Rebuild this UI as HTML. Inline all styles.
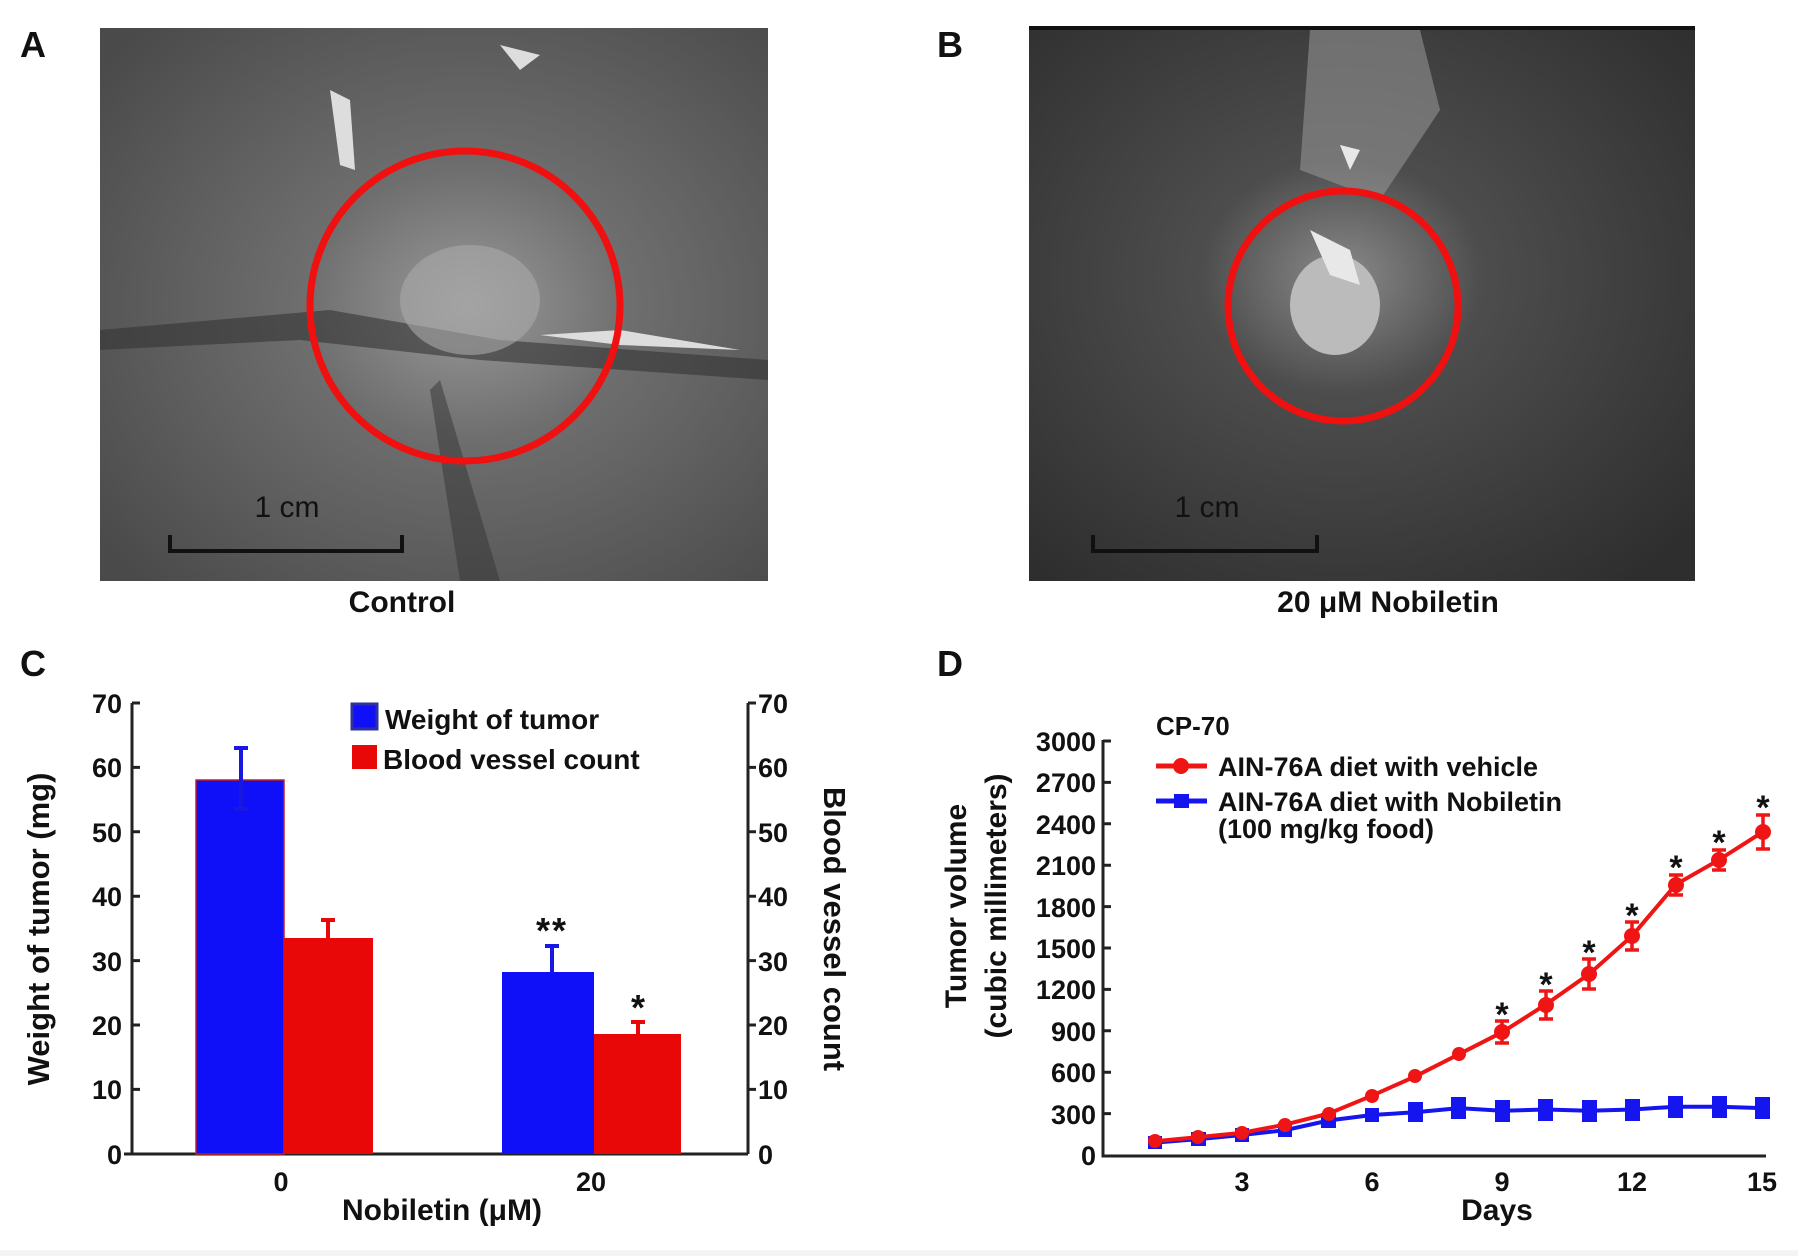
<!DOCTYPE html>
<html><head><meta charset="utf-8"><style>body{margin:0;background:#fff}svg{display:block}text{font-family:"Liberation Sans",Arial,sans-serif;font-weight:bold;fill:#111}</style></head><body>
<svg width="1798" height="1256" viewBox="0 0 1798 1256" xmlns="http://www.w3.org/2000/svg">
<defs>
<radialGradient id="ga" cx="0.55" cy="0.5" r="0.7"><stop offset="0" stop-color="#9a9a9a"/><stop offset="0.35" stop-color="#6e6e6e"/><stop offset="1" stop-color="#4a4a4a"/></radialGradient>
<radialGradient id="gb" cx="0.47" cy="0.45" r="0.7"><stop offset="0" stop-color="#8a8a8a"/><stop offset="0.3" stop-color="#4d4d4d"/><stop offset="1" stop-color="#2e2e2e"/></radialGradient>
</defs>
<rect x="0" y="1250" width="1798" height="6" fill="#f4f4f4"/>
<!-- Panel A -->
<text x="20" y="57" font-size="36">A</text>
<rect x="100" y="28" width="668" height="553" fill="url(#ga)"/>
<path d="M100 330 L330 310 L500 340 L768 360 L768 380 L480 360 L300 340 L100 350Z" fill="#333" opacity="0.6"/>
<path d="M440 380 L500 581 L460 581 L430 390Z" fill="#333" opacity="0.5"/>
<ellipse cx="470" cy="300" rx="70" ry="55" fill="#aaa" opacity="0.6"/>
<path d="M330 90 L350 100 L355 170 L340 165Z M500 45 L540 55 L520 70Z M540 335 L620 330 L740 350 L620 345Z" fill="#ddd"/>
<circle cx="465" cy="306" r="155" fill="none" stroke="#f01010" stroke-width="7"/>
<path d="M170 535 V551 H402 V535" fill="none" stroke="#111" stroke-width="4"/>
<text x="287" y="517" font-size="30" text-anchor="middle" style="font-weight:normal" fill="#222">1 cm</text>
<text x="402" y="612" font-size="30" text-anchor="middle">Control</text>
<!-- Panel B -->
<text x="937" y="57" font-size="36">B</text>
<rect x="1029" y="28" width="666" height="553" fill="url(#gb)"/>
<rect x="1029" y="26" width="666" height="4" fill="#111"/>
<path d="M1310 30 L1420 30 L1440 110 L1380 200 L1300 170Z" fill="#999" opacity="0.55"/>
<ellipse cx="1335" cy="305" rx="45" ry="50" fill="#bbb"/>
<path d="M1310 230 L1350 250 L1360 285 L1330 275Z M1340 145 L1360 150 L1350 170Z" fill="#e8e8e8"/>
<circle cx="1343" cy="306" r="115" fill="none" stroke="#f01010" stroke-width="7"/>
<path d="M1093 535 V551 H1317 V535" fill="none" stroke="#111" stroke-width="4"/>
<text x="1207" y="517" font-size="30" text-anchor="middle" style="font-weight:normal" fill="#222">1 cm</text>
<text x="1388" y="612" font-size="30" text-anchor="middle">20 μM Nobiletin</text>
<!-- Panel C -->
<text x="20" y="676" font-size="36">C</text>
<g stroke="#222" stroke-width="3" fill="none">
<path d="M124 1154 H748 M132 703 V1154 M748 703 V1154"/>
<path d="M132 703h8M132 767.4h8M132 831.8h8M132 896.2h8M132 960.6h8M132 1025h8M132 1089.4h8"/>
<path d="M748 703h8M748 767.4h8M748 831.8h8M748 896.2h8M748 960.6h8M748 1025h8M748 1089.4h8"/>
</g>
<g font-size="27" text-anchor="end">
<text x="122" y="713">70</text><text x="122" y="777">60</text><text x="122" y="842">50</text><text x="122" y="906">40</text><text x="122" y="971">30</text><text x="122" y="1035">20</text><text x="122" y="1099">10</text><text x="122" y="1164">0</text>
</g>
<g font-size="27" text-anchor="start">
<text x="758" y="713">70</text><text x="758" y="777">60</text><text x="758" y="842">50</text><text x="758" y="906">40</text><text x="758" y="971">30</text><text x="758" y="1035">20</text><text x="758" y="1099">10</text><text x="758" y="1164">0</text>
</g>
<rect x="196" y="780" width="88" height="374" fill="#1010f8" stroke="#c02020" stroke-width="1.5"/>
<rect x="284" y="938" width="89" height="216" fill="#e80808"/>
<rect x="502" y="972" width="92" height="182" fill="#1010f8"/>
<rect x="594" y="1034" width="87" height="120" fill="#e80808"/>
<g stroke-width="4" fill="none">
<path d="M241 748 V810 M234 748 h14 M234 809 h14" stroke="#1818e0"/>
<path d="M328 920 V938 M321 920 h14" stroke="#e80808"/>
<path d="M552 946 V972 M545 946 h14" stroke="#1818e0"/>
<path d="M638 1022 V1034 M631 1022 h14" stroke="#e80808"/>
</g>
<text x="552" y="943" font-size="36" text-anchor="middle" letter-spacing="2">**</text>
<text x="638" y="1020" font-size="36" text-anchor="middle">*</text>
<rect x="352" y="704" width="25" height="25" fill="#1010f8" stroke="#3030a0" stroke-width="3"/>
<rect x="352" y="745" width="25" height="24" fill="#e80808"/>
<text x="385" y="729" font-size="28">Weight of tumor</text>
<text x="383" y="769" font-size="28">Blood vessel count</text>
<text x="281" y="1191" font-size="27" text-anchor="middle">0</text>
<text x="591" y="1191" font-size="27" text-anchor="middle">20</text>
<text x="442" y="1220" font-size="30" text-anchor="middle">Nobiletin (μM)</text>
<text transform="translate(49,929) rotate(-90)" font-size="31" text-anchor="middle">Weight of tumor (mg)</text>
<text transform="translate(824,929) rotate(90)" font-size="31" text-anchor="middle">Blood vessel count</text>
<!-- Panel D -->
<text x="937" y="676" font-size="36">D</text>
<g stroke="#222" stroke-width="3" fill="none">
<path d="M1103 740 V1156 H1766"/>
<path d="M1103 741h8M1103 782.4h8M1103 823.8h8M1103 865.2h8M1103 906.6h8M1103 948h8M1103 989.4h8M1103 1030.8h8M1103 1072.2h8M1103 1113.6h8"/>
</g>
<g font-size="27" text-anchor="end">
<text x="1096" y="751">3000</text><text x="1096" y="792">2700</text><text x="1096" y="834">2400</text><text x="1096" y="875">2100</text><text x="1096" y="917">1800</text><text x="1096" y="958">1500</text><text x="1096" y="999">1200</text><text x="1096" y="1041">900</text><text x="1096" y="1082">600</text><text x="1096" y="1124">300</text><text x="1096" y="1165">0</text>
</g>
<g font-size="27" text-anchor="middle">
<text x="1242" y="1191">3</text><text x="1372" y="1191">6</text><text x="1502" y="1191">9</text><text x="1632" y="1191">12</text><text x="1762" y="1191">15</text>
</g>
<text x="1497" y="1220" font-size="30" text-anchor="middle">Days</text>
<text transform="translate(966,906) rotate(-90)" font-size="30" text-anchor="middle">Tumor volume</text>
<text transform="translate(1006,906) rotate(-90)" font-size="30" text-anchor="middle">(cubic millimeters)</text>
<polyline fill="none" stroke="#1515f0" stroke-width="4" points="1155,1142.6 1198.4,1139.1 1241.8,1135 1285.2,1130.2 1328.6,1120.5 1372,1115 1415.4,1112.2 1458.8,1108.1 1502.2,1110.8 1545.6,1109.5 1589,1110.8 1632.4,1109.5 1675.8,1106.7 1719.2,1106.7 1762.6,1108.1"/>
<g fill="#1515f0">
<rect x="1148" y="1136" width="14" height="13"/><rect x="1191" y="1132" width="15" height="14"/><rect x="1235" y="1128" width="14" height="14"/><rect x="1278" y="1123" width="14" height="14"/><rect x="1321" y="1113" width="15" height="15"/><rect x="1365" y="1108" width="14" height="14"/><rect x="1408" y="1102" width="15" height="20"/><rect x="1451" y="1097" width="15" height="22"/><rect x="1495" y="1100" width="15" height="22"/><rect x="1538" y="1099" width="15" height="22"/><rect x="1582" y="1100" width="15" height="22"/><rect x="1625" y="1099" width="15" height="22"/><rect x="1668" y="1096" width="15" height="22"/><rect x="1712" y="1096" width="15" height="22"/><rect x="1755" y="1097" width="15" height="22"/>
</g>
<polyline fill="none" stroke="#f01515" stroke-width="4" points="1155,1141.2 1198.4,1137.1 1241.8,1132.9 1285.2,1124.6 1328.6,1113.6 1372,1095.7 1415.4,1076.3 1458.8,1054.3 1502.2,1032.2 1545.6,1004.6 1589,974.2 1632.4,935.6 1675.8,884.5 1719.2,859.7 1762.6,832.1"/>
<g fill="#f01515">
<circle cx="1155" cy="1141" r="7"/><circle cx="1198" cy="1137" r="7"/><circle cx="1242" cy="1133" r="7"/><circle cx="1285" cy="1125" r="7"/><circle cx="1329" cy="1114" r="7"/><circle cx="1372" cy="1096" r="7"/><circle cx="1415" cy="1076" r="7"/><circle cx="1459" cy="1054" r="7"/><circle cx="1502" cy="1032" r="8"/><circle cx="1546" cy="1005" r="8"/><circle cx="1589" cy="974" r="8"/><circle cx="1632" cy="936" r="8"/><circle cx="1676" cy="885" r="8"/><circle cx="1719" cy="860" r="8"/><circle cx="1763" cy="832" r="8"/>
</g>
<g stroke="#f01515" stroke-width="3.5" fill="none">
<path d="M1502 1021V1043M1495 1021h14M1495 1043h14"/>
<path d="M1546 991V1019M1539 991h14M1539 1019h14"/>
<path d="M1589 959V989M1582 959h14M1582 989h14"/>
<path d="M1632 922V950M1625 922h14M1625 950h14"/>
<path d="M1676 875V895M1669 875h14M1669 895h14"/>
<path d="M1719 850V870M1712 850h14M1712 870h14"/>
<path d="M1763 815V849M1756 815h14M1756 849h14"/>
</g>
<g font-size="34" text-anchor="middle">
<text x="1502" y="1026">*</text><text x="1546" y="996">*</text><text x="1589" y="964">*</text><text x="1632" y="927">*</text><text x="1676" y="879">*</text><text x="1719" y="854">*</text><text x="1763" y="819">*</text>
</g>
<text x="1156" y="735" font-size="26">CP-70</text>
<path d="M1156 766 H1207" stroke="#f01515" stroke-width="5"/>
<circle cx="1181" cy="766" r="8" fill="#f01515"/>
<path d="M1156 801 H1207" stroke="#1515f0" stroke-width="5"/>
<rect x="1174" y="794" width="15" height="14" fill="#1515f0"/>
<text x="1218" y="776" font-size="27">AIN-76A diet with vehicle</text>
<text x="1218" y="811" font-size="27">AIN-76A diet with Nobiletin</text>
<text x="1218" y="838" font-size="27">(100 mg/kg food)</text>
</svg>
</body></html>
